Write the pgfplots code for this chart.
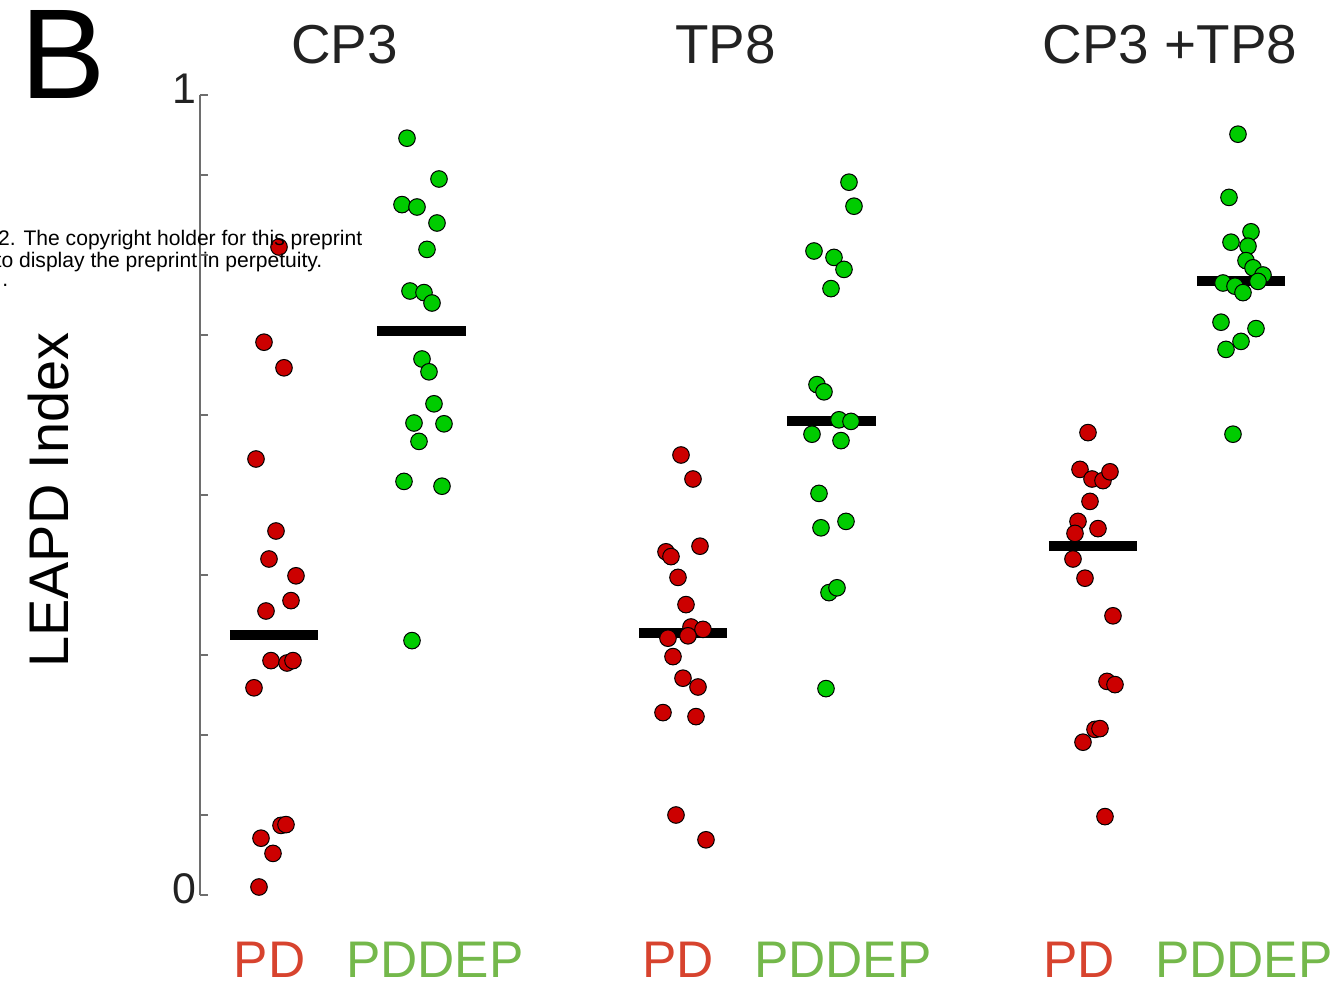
\documentclass[border=0pt]{standalone}
\usepackage{fontspec}
\setmainfont{Liberation Sans}
\usepackage{pgfplots}
\pgfplotsset{compat=1.18}
\usepackage{pgfplotstable}
\definecolor{mred}{HTML}{CC0000}
\definecolor{mgreen}{HTML}{00CC00}
\definecolor{lblred}{HTML}{D7432E}
\definecolor{lblgreen}{HTML}{74B84B}
\definecolor{titlegray}{HTML}{222222}
\definecolor{axgray}{HTML}{6E6E6E}
\newcommand{\fsz}[1]{\fontsize{#1}{#1}\selectfont}

% x = horizontal position (px scale), y = LEAPD index
\pgfplotstableread{
x y
279 0.810
264 0.691
284 0.659
256 0.545
276 0.455
269 0.420
296 0.399
291 0.368
266 0.355
271 0.293
287 0.290
293 0.293
254 0.259
281 0.087
286 0.088
261 0.071
273 0.052
259 0.010
}\cpthreePD
\pgfplotstableread{
x y
407 0.946
439 0.895
402 0.863
417 0.860
437 0.840
427 0.807
410 0.755
424 0.753
432 0.740
422 0.670
429 0.654
434 0.614
414 0.590
444 0.589
419 0.567
404 0.517
442 0.511
412 0.318
}\cpthreePDDEP
\pgfplotstableread{
x y
681 0.550
693 0.520
666 0.429
671 0.423
700 0.436
678 0.397
686 0.363
691 0.335
703 0.332
668 0.321
688 0.324
673 0.298
683 0.271
698 0.260
663 0.228
696 0.223
676 0.100
706 0.069
}\tpeightPD
\pgfplotstableread{
x y
849 0.891
854 0.861
814 0.805
834 0.797
844 0.782
831 0.758
817 0.638
824 0.629
839 0.594
851 0.592
812 0.576
841 0.568
819 0.502
821 0.459
846 0.467
829 0.378
837 0.384
826 0.258
}\tpeightPDDEP
\pgfplotstableread{
x y
1088 0.578
1080 0.532
1092 0.520
1103 0.518
1110 0.529
1090 0.492
1078 0.467
1075 0.452
1098 0.458
1073 0.420
1085 0.396
1113 0.349
1107 0.267
1115 0.263
1095 0.207
1100 0.208
1083 0.191
1105 0.098
}\bothPD
\pgfplotstableread{
x y
1238 0.951
1229 0.872
1251 0.829
1231 0.816
1248 0.811
1246 0.793
1253 0.784
1263 0.775
1223 0.765
1235 0.761
1258 0.767
1243 0.753
1221 0.716
1256 0.708
1241 0.692
1226 0.682
1233 0.576
}\bothPDDEP

\begin{document}
\begin{tikzpicture}
\useasboundingbox (0,0) rectangle (133.8mm,98.6mm);
\begin{axis}[
  at={(20mm,9.1mm)}, anchor=south west,
  scale only axis, width=113.8mm, height=80mm,
  xmin=200, xmax=1338, ymin=0, ymax=1,
  clip=false,
  axis x line=none,
  axis y line*=left,
  y axis line style={draw=axgray, line width=0.15mm, -},
  ytick={0,0.1,0.2,0.3,0.4,0.5,0.6,0.7,0.8,0.9,1},
  yticklabels={0,{},{},{},{},{},{},{},{},{},1},
  tick align=inside,
  major tick length=0.8mm,
  tick style={draw=axgray, line width=0.15mm},
  yticklabel style={font=\fsz{12.2pt}, text=titlegray, inner sep=0pt, anchor=east, xshift=-0.3mm, yshift=0.6mm},
  /pgf/number format/assume math mode=true,
]
\addplot[only marks, mark=*, mark size=0.83mm, mark options={fill=mred, draw=black, line width=0.1mm}] table[x=x,y=y] {\cpthreePD};
\addplot[only marks, mark=*, mark size=0.83mm, mark options={fill=mgreen, draw=black, line width=0.1mm}] table[x=x,y=y] {\cpthreePDDEP};
\addplot[only marks, mark=*, mark size=0.83mm, mark options={fill=mred, draw=black, line width=0.1mm}] table[x=x,y=y] {\tpeightPD};
\addplot[only marks, mark=*, mark size=0.83mm, mark options={fill=mgreen, draw=black, line width=0.1mm}] table[x=x,y=y] {\tpeightPDDEP};
\addplot[only marks, mark=*, mark size=0.83mm, mark options={fill=mred, draw=black, line width=0.1mm}] table[x=x,y=y] {\bothPD};
\addplot[only marks, mark=*, mark size=0.83mm, mark options={fill=mgreen, draw=black, line width=0.1mm}] table[x=x,y=y] {\bothPDDEP};
% medians
\addplot[black, line width=1mm] coordinates {(230,0.325) (318,0.325)};
\addplot[black, line width=1mm] coordinates {(377,0.705) (466,0.705)};
\addplot[black, line width=1mm] coordinates {(639,0.328) (727,0.328)};
\addplot[black, line width=1mm] coordinates {(787,0.593) (876,0.593)};
\addplot[black, line width=1mm] coordinates {(1049,0.436) (1137,0.436)};
\addplot[black, line width=1mm] coordinates {(1197,0.768) (1285,0.768)};
\end{axis}
% panel letter and titles
\node[anchor=base west, inner sep=0pt, font=\fsz{36.4pt}] at (1.96mm,88.8mm) {B};
\node[anchor=base, inner sep=0pt, font=\fsz{15.6pt}, text=titlegray] at (34.45mm,92.3mm) {CP3};
\node[anchor=base, inner sep=0pt, font=\fsz{15.6pt}, text=titlegray] at (72.55mm,92.3mm) {TP8};
\node[anchor=base, inner sep=0pt, font=\fsz{15.6pt}, text=titlegray] at (117.0mm,92.3mm) {CP3 +TP8};
% y label
\node[anchor=base, rotate=90, inner sep=0pt, font=\fsz{15.9pt}] at (6.8mm,48.6mm) {LEAPD Index};
% group labels
\node[anchor=base, inner sep=0pt, font=\fsz{14.65pt}, text=lblred] at (26.95mm,0.9mm) {PD};
\node[anchor=base, inner sep=0pt, font=\fsz{14.65pt}, text=lblgreen] at (43.5mm,0.9mm) {PDDEP};
\node[anchor=base, inner sep=0pt, font=\fsz{14.65pt}, text=lblred] at (67.8mm,0.9mm) {PD};
\node[anchor=base, inner sep=0pt, font=\fsz{14.65pt}, text=lblgreen] at (84.3mm,0.9mm) {PDDEP};
\node[anchor=base, inner sep=0pt, font=\fsz{14.65pt}, text=lblred] at (107.9mm,0.9mm) {PD};
\node[anchor=base, inner sep=0pt, font=\fsz{14.65pt}, text=lblgreen] at (124.4mm,0.9mm) {PDDEP};
% preprint watermark overlay
\node[anchor=base east, inner sep=0pt, font=\fsz{6pt}] at (36.3mm,74.1mm) {2. The copyright holder for this preprint};
\node[anchor=base east, inner sep=0pt, font=\fsz{6pt}] at (32.3mm,71.9mm) {to display the preprint in perpetuity.};
\node[anchor=base east, inner sep=0pt, font=\fsz{6pt}] at (0.9mm,70.0mm) {.};
\end{tikzpicture}
\end{document}
